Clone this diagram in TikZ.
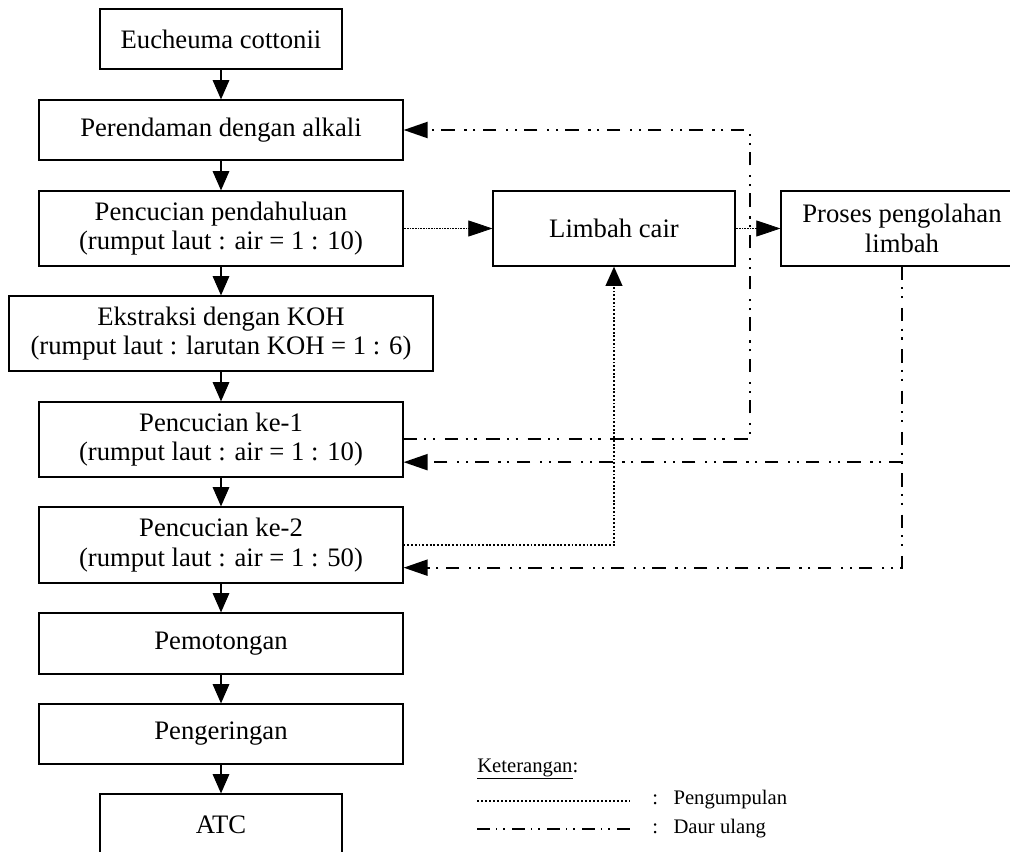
\documentclass[tikz,border=0pt]{standalone}
\usepackage{fontspec}
\setmainfont{Liberation Serif}
\usetikzlibrary{arrows.meta}
\begin{document}
\begin{tikzpicture}[x=0.75pt,y=-0.75pt,
  box/.style={draw, line width=0.9pt, align=center, inner sep=0pt, font=\fontsize{20}{22}\selectfont},
  wbox/.style={box, minimum width=273pt},
  varr/.style={-{Triangle[length=14.5pt,width=12.5pt]}},
  harr/.style={-{Triangle[length=18pt,width=12pt]}},
  flow/.style={line width=0.8pt, varr},
  dd/.style={line width=1.6pt, dash pattern=on 10pt off 5.5pt on 1.6pt off 5pt on 1.6pt off 7.3pt},
  dotc/.style={line width=1.5pt, dash pattern=on 1.4pt off 1.4pt},
  thindot/.style={line width=0.5pt, dash pattern=on 0.6pt off 0.6pt},
  legdd/.style={line width=1.1pt, dash pattern=on 9.75pt off 4.5pt on 1pt off 4.5pt on 1pt off 5.5pt},
  legdot/.style={line width=1.1pt, dash pattern=on 1.2pt off 1.8pt},
  legtext/.style={font=\fontsize{15.5}{17}\selectfont, inner sep=0pt, anchor=west}]
\useasboundingbox (0,0) rectangle (1010,852);

\node[box, minimum width=181.5pt, minimum height=45pt] (E) at (221,39) {Eucheuma cottonii};
\node[wbox, minimum height=45pt] (P1) at (221,130) {Perendaman dengan alkali};
\node[wbox, minimum height=56.25pt] (P2) at (221,228.5) {Pencucian pendahuluan\\(rumput laut : air = 1 : 10)};
\node[box, minimum width=318pt, minimum height=56.25pt] (P3) at (221,333.5) {Ekstraksi dengan KOH\\(rumput laut : larutan KOH = 1 : 6)};
\node[wbox, minimum height=56.25pt] (P4) at (221,439.5) {Pencucian ke-1\\(rumput laut : air = 1 : 10)};
\node[wbox, minimum height=57pt] (P5) at (221,545) {Pencucian ke-2\\(rumput laut : air = 1 : 50)};
\node[wbox, minimum height=45.75pt] (P6) at (221,643.5) {Pemotongan};
\node[wbox, minimum height=45pt] (P7) at (221,734) {Pengeringan};
\node[box, minimum width=181.5pt, minimum height=46.5pt] (ATC) at (221,825) {ATC};
\node[box, minimum width=181.5pt, minimum height=56.25pt] (L) at (614,228.5) {Limbah cair};
\node[box, minimum width=181.5pt, minimum height=56.25pt] (PR) at (902,228.5) {Proses pengolahan\\limbah};

\draw[flow] (E) -- (P1);
\draw[flow] (P1) -- (P2);
\draw[flow] (P2) -- (P3);
\draw[flow] (P3) -- (P4);
\draw[flow] (P4) -- (P5);
\draw[flow] (P5) -- (P6);
\draw[flow] (P6) -- (P7);
\draw[flow] (P7) -- (ATC);

\draw[thindot, harr] (P2.east) -- (P2.east -| L.west);
\draw[thindot, harr] (L.east) -- (L.east -| PR.west);

\coordinate (c1) at (750,0);
\coordinate (out4) at ([yshift=0.4pt]P4.east);
\draw[dd, harr] (out4) -- (out4 -| c1) -- (P1.east -| c1) -- (P1.east);

\coordinate (in4) at ([yshift=-17pt]P4.east);
\coordinate (in5) at ([yshift=-17pt]P5.east);
\draw[dd, harr] (PR.south) -- (PR.south |- in5) -- (in5);
\draw[dd, harr] (PR.south |- in4) -- (in4);

\draw[dotc, varr] (P5.east) -- (P5.east -| L.south) -- (L.south);

\node[legtext] (ket) at (477,769) {\underline{Keterangan}:};
\coordinate (l1a) at (477,801);
\coordinate (l1b) at (630,801);
\coordinate (l2a) at (477,829);
\coordinate (l2b) at (630,829);
\draw[legdot] (l1a) -- (l1b);
\draw[legdd] (l2a) -- (l2b);
\node[legtext] (t1) at (652,800) {:\hspace{0.75em}Pengumpulan};
\node[legtext] (t2) at (652,829) {:\hspace{0.75em}Daur ulang};
\end{tikzpicture}
\end{document}
